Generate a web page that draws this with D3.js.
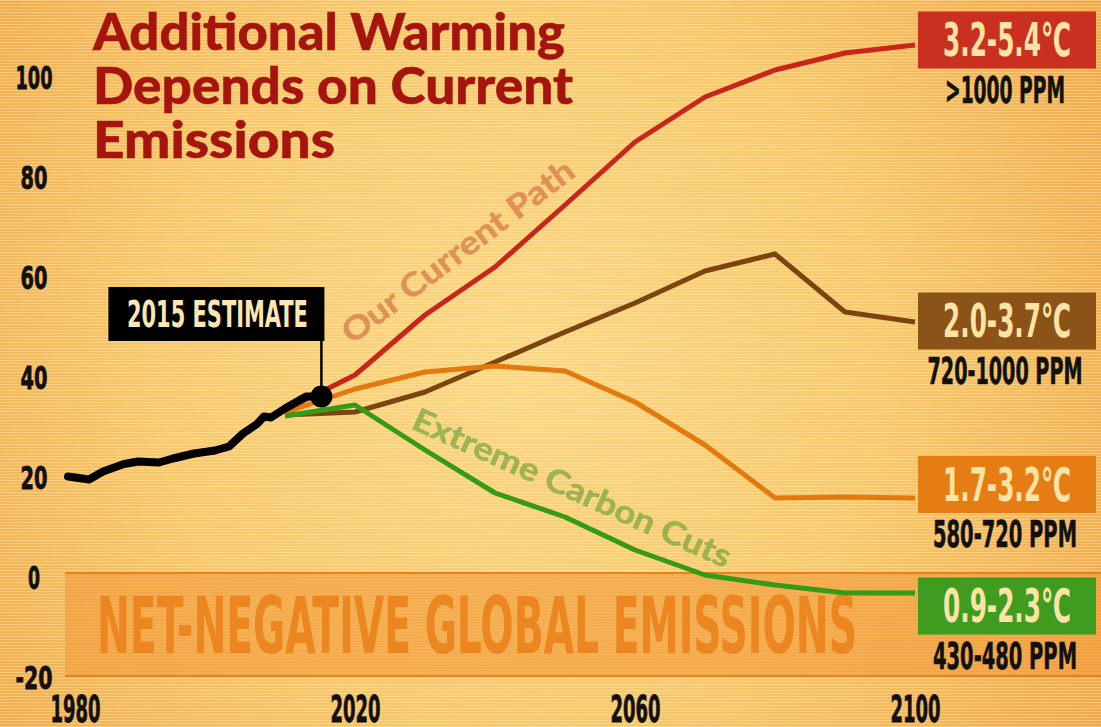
<!DOCTYPE html>
<html><head><meta charset="utf-8">
<script src="https://cdn.jsdelivr.net/npm/d3@7"></script>
<style>body{margin:0;overflow:hidden;background:#f6c060}</style>
</head><body>
<svg id="c" width="1101" height="727"></svg>
<script>
// ---------- data ----------
const historyYears  = [1979,1982,1984,1987,1989,1992,1994,1997,2000,2002,2004,2006,2007,2008,2010,2012,2013,2015];
const historyValues = [19.7,19.1,20.7,22.2,22.7,22.5,23.3,24.3,24.9,25.7,28.3,30.2,31.7,31.5,33.3,34.9,35.7,35.7];
const scenarioYears = [2010,2020,2030,2040,2050,2060,2070,2080,2090,2100];
const currentPath   = [33,40,52,61.6,74,86.6,95.6,101,104.4,106];
const midHighPath   = [32,32.6,36.6,42.6,48.6,54.4,60.8,64.2,52.6,50.6];
const midLowPath    = [32.5,37.2,40.6,41.8,40.8,34.6,26,15.4,15.6,15.4];
const extremeCuts   = [31.8,34,25,16.4,11.6,5,0,-2,-3.6,-3.6];
const estimateYear = 2015.2, estimateValue = 35.7;
const xTicks = [1980,2020,2060,2100];
const yTicks = [-20,0,20,40,60,80,100];
const warmingLabels = ["3.2-5.4\u2103","2.0-3.7\u2103","1.7-3.2\u2103","0.9-2.3\u2103"];
const ppmLabels = [">1000 PPM","720-1000 PPM","580-720 PPM","430-480 PPM"];
const labelAnchorValues = [107,50.8,18.1,-6.2];
const titleLines = ["Additional Warming","Depends on Current","Emissions"];

// ---------- setup ----------
const W = 1101, H = 727;
const svg = d3.select("#c");
const x = d3.scaleLinear().domain([1980,2100]).range([75,915]);
const y = d3.scaleLinear().domain([-20,100]).range([675,75]);
const COND = "'Liberation Sans Narrow','DejaVu Sans Condensed','Arial Narrow',sans-serif";
const fit = (sel,w) => sel.attr("textLength",w).attr("lengthAdjust","spacingAndGlyphs");
const heavy = (sel,c,w) => sel.attr("stroke",c).attr("stroke-width",w).attr("paint-order","stroke");

// background
const defs = svg.append("defs");
const rg = defs.append("radialGradient").attr("id","bg").attr("gradientUnits","userSpaceOnUse")
  .attr("cx",520).attr("cy",360).attr("r",720);
rg.append("stop").attr("offset",0).attr("stop-color","#fcd985");
rg.append("stop").attr("offset",0.5).attr("stop-color","#f9c96a");
rg.append("stop").attr("offset",1).attr("stop-color","#f0a443");
const f = defs.append("filter").attr("id","grain").attr("x",0).attr("y",0).attr("width","100%").attr("height","100%");
f.append("feTurbulence").attr("type","fractalNoise").attr("baseFrequency","0.004 0.5").attr("numOctaves",2).attr("seed",4);
f.append("feColorMatrix").attr("type","matrix").attr("values","0 0 0 0 0.85  0 0 0 0 0.5  0 0 0 0 0.15  0.9 0 0 0 -0.3");
const pat = defs.append("pattern").attr("id","lines").attr("patternUnits","userSpaceOnUse").attr("width",8).attr("height",3);
pat.append("rect").attr("width",8).attr("height",1).attr("fill","#fff3d0").attr("opacity",0.35);

svg.append("rect").attr("width",W).attr("height",H).attr("fill","url(#bg)");
svg.append("rect").attr("width",W).attr("height",H).attr("filter","url(#grain)").attr("opacity",0.45);
svg.append("rect").attr("width",W).attr("height",H).attr("fill","url(#lines)");

// net-negative band
const bandLeft = 65;
svg.append("rect").attr("x",bandLeft).attr("y",y(0)-2).attr("width",W-bandLeft).attr("height",y(-20)-y(0)+3)
  .attr("fill","#f29a38").attr("opacity",0.6);
[0,-20].forEach(v=>svg.append("line").attr("x1",bandLeft).attr("x2",W).attr("y1",y(v)+(v===0?-2:1)).attr("y2",y(v)+(v===0?-2:1))
  .attr("stroke","#e5831f").attr("stroke-width",2));
fit(svg.append("text").attr("x",97).attr("y",y(-15.6)).text("NET-NEGATIVE GLOBAL EMISSIONS")
  .attr("font-family",COND).attr("font-weight",700).attr("font-size",79).attr("fill","#ec8620"),760);

// title
titleLines.forEach((t,i)=>{
  const widths=[472,480,242];
  fit(svg.append("text").attr("x",93).attr("y",50+i*54).text(t)
    .attr("font-family","Lato,'Open Sans',sans-serif").attr("font-weight",900).attr("font-size",52)
    .attr("fill","#a5140f").call(heavy,"#a5140f",0.5),widths[i]);
});

// axes
const ya = svg.append("g").attr("transform","translate(34,0)")
  .call(d3.axisLeft(y).tickValues(yTicks).tickFormat(d=>String(d)).tickSize(0).tickPadding(0));
ya.select(".domain").remove();
ya.selectAll("text").attr("text-anchor","middle").attr("x",0).attr("dy","0.42em")
  .attr("font-family",COND).attr("font-weight",700).attr("font-size",32).attr("fill","#111")
  .call(heavy,"#111",0.8)
  .each(function(d){ fit(d3.select(this), d===0?12:(String(d).length===2?27:37)); });
const xa = svg.append("g").attr("transform","translate(0,695)")
  .call(d3.axisBottom(x).tickValues(xTicks).tickFormat(d=>String(d)).tickSize(0).tickPadding(0));
xa.select(".domain").remove();
xa.selectAll("text").attr("font-family",COND).attr("font-weight",700).attr("font-size",37).attr("fill","#111")
  .attr("dy","0.74em").call(heavy,"#111",0.8)
  .each(function(){ fit(d3.select(this),50); });

// lines
const line = d3.line().x(d=>x(d[0])).y(d=>y(d[1]));
const series = [
  {vals:midHighPath,color:"#7a4511"},
  {vals:midLowPath,color:"#e27a10"},
  {vals:currentPath,color:"#c8261a"},
  {vals:extremeCuts,color:"#379a14"}
];
series.forEach(s=>{
  svg.append("path").attr("d",line(scenarioYears.map((yr,i)=>[yr,s.vals[i]])))
    .attr("fill","none").attr("stroke",s.color).attr("stroke-width",5).attr("stroke-linejoin","round");
});

// rotated line labels
svg.append("text").attr("transform","translate(352,345) rotate(-37)").text("Our Current Path")
  .attr("font-family","Lato,'Open Sans',sans-serif").attr("font-weight",700).attr("font-size",32)
  .attr("fill","#c4502c").attr("opacity",0.5).call(heavy,"#c4502c",0.6).call(s=>fit(s,282));
svg.append("text").attr("transform","translate(410,428) rotate(24)").text("Extreme Carbon Cuts")
  .attr("font-family","Lato,'Open Sans',sans-serif").attr("font-weight",700).attr("font-size",32)
  .attr("fill","#5f9e2e").attr("opacity",0.6).call(heavy,"#5f9e2e",0.6).call(s=>fit(s,345));

// history line
svg.append("path").attr("d",line(historyYears.map((yr,i)=>[yr,historyValues[i]])))
  .attr("fill","none").attr("stroke","#000").attr("stroke-width",8).attr("stroke-linejoin","round").attr("stroke-linecap","round");

// estimate marker
const ex = x(estimateYear), ey = y(estimateValue);
svg.append("line").attr("x1",ex).attr("x2",ex).attr("y1",341).attr("y2",ey).attr("stroke","#000").attr("stroke-width",2.5);
svg.append("rect").attr("x",ex-213).attr("y",287).attr("width",216).attr("height",54).attr("fill","#000");
fit(svg.append("text").attr("x",ex-104).attr("y",327).attr("text-anchor","middle").text("2015 ESTIMATE")
  .attr("font-family",COND).attr("font-weight",700).attr("font-size",37).attr("fill","#fde6b0"),181);
svg.append("circle").attr("cx",ex).attr("cy",ey).attr("r",11).attr("fill","#000");

// right labels
const boxColors = ["#c9301f","#8b5317","#e57d14","#3f9c1f"];
const bx = x(2100)+3, bw = 178, bh = 57;
labelAnchorValues.forEach((v,i)=>{
  const cy = y(v);
  svg.append("rect").attr("x",bx).attr("y",cy-bh/2).attr("width",bw).attr("height",bh).attr("fill",boxColors[i]);
  fit(svg.append("text").attr("x",bx+bw/2).attr("y",cy+16).attr("text-anchor","middle").text(warmingLabels[i])
    .attr("font-family",COND).attr("font-weight",700).attr("font-size",46).attr("fill","#fde3a5"),128);
  const pw = [120,155,144,144][i];
  fit(svg.append("text").attr("x",bx+bw/2-2).attr("y",cy+bh/2+34).attr("text-anchor","middle").text(ppmLabels[i])
    .attr("font-family",COND).attr("font-weight",700).attr("font-size",37).attr("fill","#111")
    .call(heavy,"#111",0.6),pw);
});
</script>
</body></html>
